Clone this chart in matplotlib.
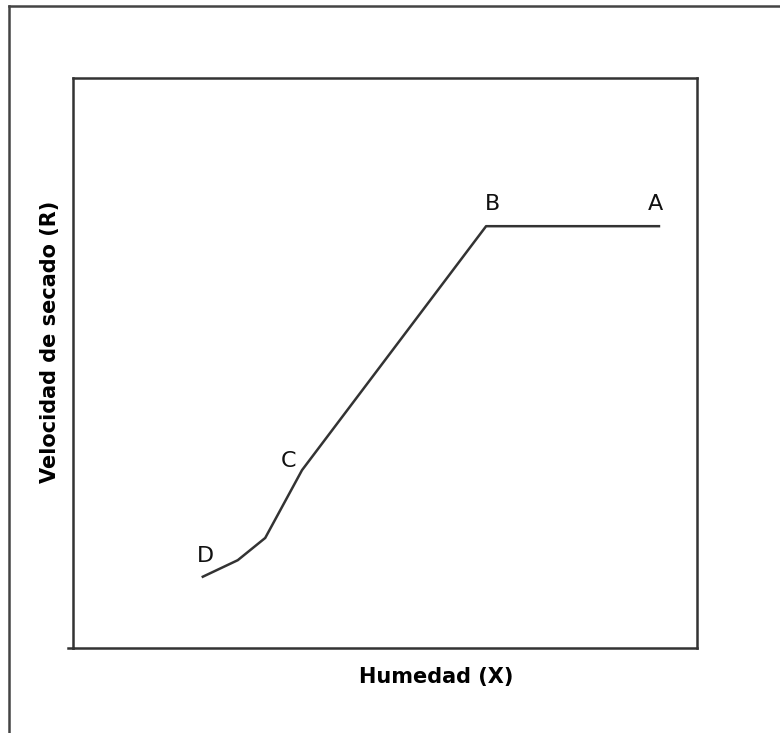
import matplotlib.pyplot as plt
from matplotlib.lines import Line2D

# Curva de velocidad de secado (escala 0-100)
humedad = [20.8, 26.4, 30.8, 36.7, 66.2, 93.9]
velocidad = [12.5, 15.4, 19.3, 31.2, 74.0, 74.0]

# Puntos etiquetados
etiquetas = ['D', 'C', 'B', 'A']
etiq_x = [21.2, 34.6, 67.2, 93.4]
etiq_y = [14.4, 31.1, 76.2, 76.2]

fig = plt.figure(figsize=(7.8, 7.33), dpi=100)
ax = fig.add_axes([0.0936, 0.116, 0.8, 0.7776])

ax.plot(humedad, velocidad, color='#333333', linewidth=1.8)

for t, x, y in zip(etiquetas, etiq_x, etiq_y):
    ax.text(x, y, t, fontsize=16, ha='center', va='bottom', color='#111111')

ax.set_xlim(0, 100)
ax.set_ylim(0, 100)
ax.set_xticks([])
ax.set_yticks([])
for s in ax.spines.values():
    s.set_linewidth(1.8)
    s.set_color('#333333')

# la linea del eje x sobresale un poco a la izquierda
ax.add_line(Line2D([-0.008, 0], [0, 0], transform=ax.transAxes,
                   color='#333333', linewidth=1.8, clip_on=False))

ax.set_xlabel('Humedad (X)', fontsize=15, fontweight='bold', va='center')
ax.set_ylabel('Velocidad de secado (R)', fontsize=15, fontweight='bold', va='center')
ax.xaxis.set_label_coords(0.582, -0.051)
ax.yaxis.set_label_coords(-0.037, 0.537)

# marco exterior (solo arriba e izquierda)
fig.add_artist(Line2D([0.0115, 1.0], [0.9918, 0.9918], transform=fig.transFigure,
                      color='#444444', linewidth=1.8))
fig.add_artist(Line2D([0.0115, 0.0115], [0.0, 0.9918], transform=fig.transFigure,
                      color='#444444', linewidth=1.8))

fig.savefig('out.png', dpi=100)
